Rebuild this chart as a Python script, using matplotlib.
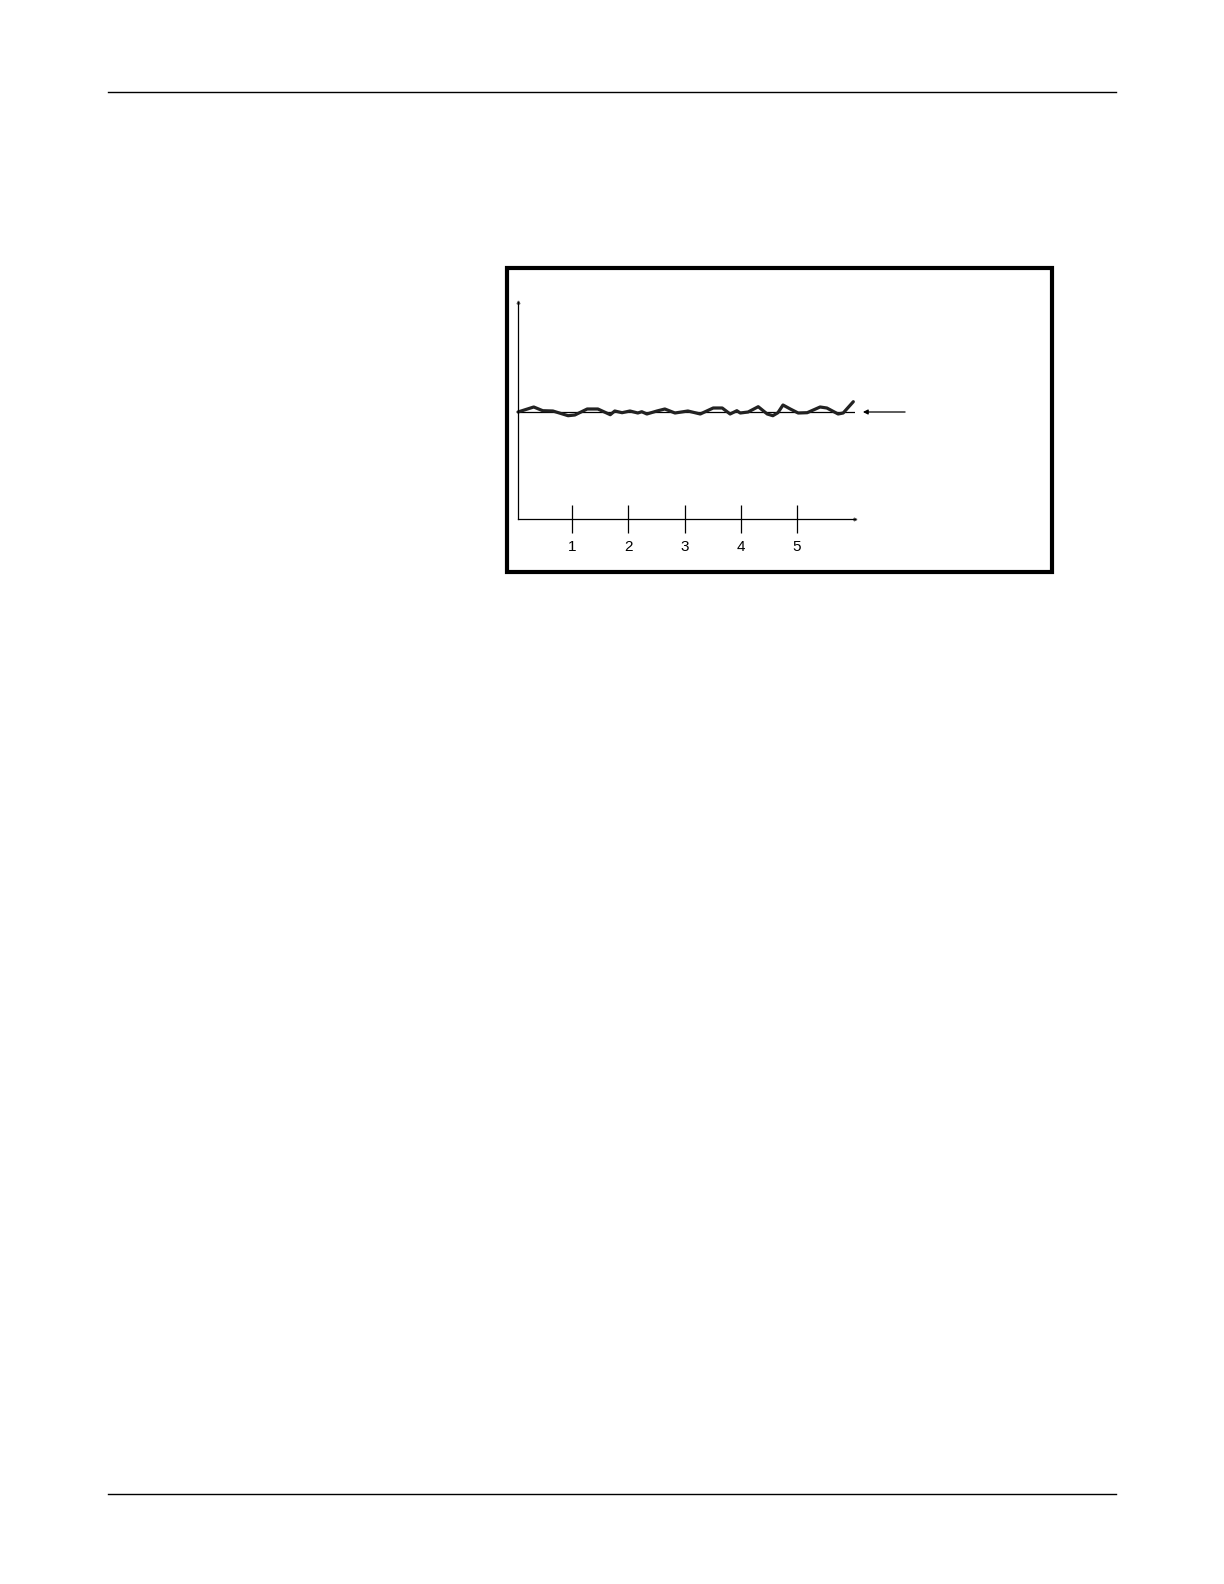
import matplotlib
matplotlib.use("Agg")
import matplotlib.pyplot as plt
from matplotlib.lines import Line2D
from matplotlib.patches import Rectangle

# signal trace (x in tick units, y = deviation from the reference level)
wave_x = [0.04, 0.32, 0.48, 0.66, 0.93, 1.05, 1.27, 1.46, 1.68, 1.76, 1.89, 2.03,
          2.17, 2.24, 2.33, 2.51, 2.65, 2.83, 3.06, 3.28, 3.51, 3.67, 3.81, 3.93,
          3.99, 4.13, 4.31, 4.47, 4.57, 4.66, 4.75, 4.88, 5.02, 5.18, 5.41, 5.53,
          5.73, 5.82, 6.00]
wave_y = [0.0, 0.5, 0.13, 0.1, -0.37, -0.3, 0.3, 0.3, -0.27, 0.1, -0.07, 0.1,
          -0.1, 0.03, -0.2, 0.1, 0.3, -0.1, 0.1, -0.2, 0.4, 0.4, -0.2, 0.13,
          -0.1, 0.0, 0.53, -0.2, -0.37, -0.07, 0.7, 0.3, -0.1, -0.07, 0.5, 0.4,
          -0.2, -0.1, 1.03]
ref_level = 0.0
tick_pos = [1, 2, 3, 4, 5]
tick_labels = ["1", "2", "3", "4", "5"]

W, H = 1224, 1584
fig = plt.figure(figsize=(W / 100, H / 100), dpi=100)
fig.patch.set_facecolor("white")

# page header / footer rules
fig.add_artist(Line2D([108 / W, 1116 / W], [1 - 92 / H, 1 - 92 / H], color="black", lw=1.0))
fig.add_artist(Line2D([108 / W, 1116 / W], [1 - 1494 / H, 1 - 1494 / H], color="black", lw=1.0))

# heavy frame round the figure
fig.add_artist(Rectangle((507 / W, 1 - 572 / H), 545 / W, 304 / H,
                         fill=False, ec="black", lw=3.0, transform=fig.transFigure))

ax = fig.add_axes([518 / W, 1 - 519 / H, 337 / W, 217 / H])
ax.set_xlim(0.04, 6.03)
ax.set_ylim(-10.7, 11.0)
ax.patch.set_alpha(0)
for s in ["top", "right"]:
    ax.spines[s].set_visible(False)
for s in ["left", "bottom"]:
    ax.spines[s].set_linewidth(0.9)

ax.set_yticks([])
ax.set_xticks(tick_pos)
ax.set_xticklabels(tick_labels, fontsize=11, family="Liberation Sans")
ax.tick_params(axis="x", direction="inout", length=20, width=0.9, pad=5)

# tiny arrow heads at the axis ends
ax.plot(0, 1, marker="^", ms=2, color="#555555", transform=ax.transAxes, clip_on=False)
ax.plot(1, 0, marker=">", ms=2, color="#555555", transform=ax.transAxes, clip_on=False)

ax.axhline(ref_level, color="black", lw=0.9)
ax.plot(wave_x, wave_y, color="#222222", lw=2.3, solid_joinstyle="round",
        solid_capstyle="round", clip_on=False)

ax.annotate("", xy=(6.17, ref_level), xytext=(6.92, ref_level),
            arrowprops=dict(arrowstyle="-|>", color="black", lw=0.9,
                            mutation_scale=7, shrinkA=0, shrinkB=0),
            annotation_clip=False)

fig.savefig("out.png", dpi=100)
